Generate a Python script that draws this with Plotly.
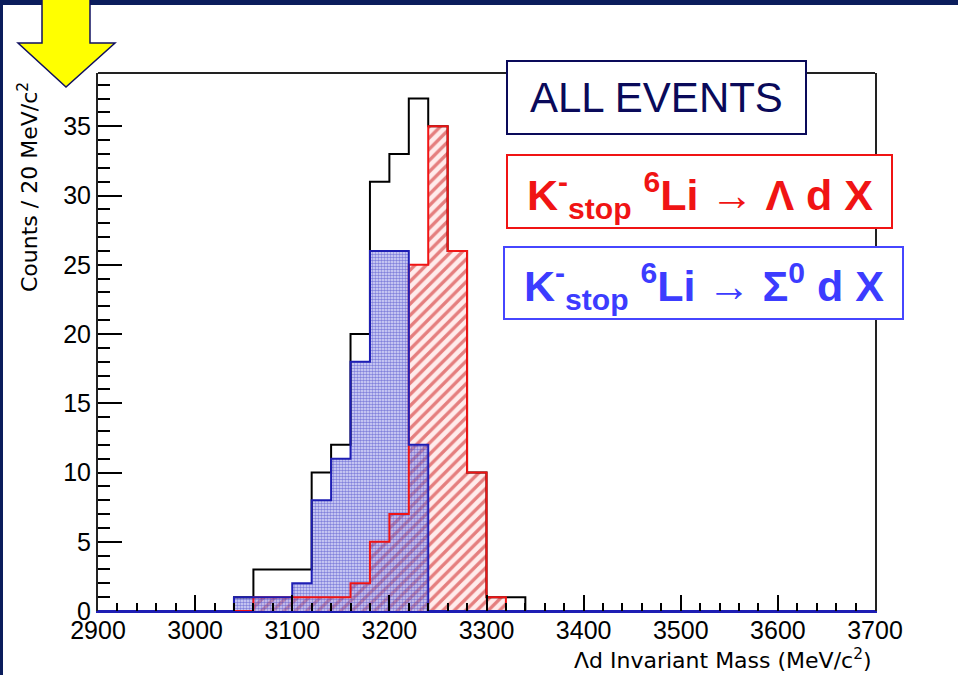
import plotly.graph_objects as go

# Histogram binning (MeV/c^2)
x_min, x_max, bin_width = 2900, 3700, 20
first_bin = 3040  # lower edge of the first listed bin

# Counts per 20 MeV/c^2 bin, for bins starting at 3040, 3060, ..., 3320
counts_all = [1, 3, 3, 3, 10, 12, 20, 31, 33, 37, 35, 26, 10, 1, 1]
counts_lambda = [0, 1, 1, 1, 1, 1, 2, 5, 7, 25, 35, 26, 10, 1, 0]
counts_sigma = [1, 1, 1, 2, 8, 11, 18, 26, 26, 12, 0, 0, 0, 0, 0]

x_tick_vals = [2900, 3000, 3100, 3200, 3300, 3400, 3500, 3600, 3700]
y_tick_vals = [0, 5, 10, 15, 20, 25, 30, 35]
y_max = 37 * 1.05

n_bins = (x_max - x_min) // bin_width
edges = [x_min + i * bin_width for i in range(n_bins + 1)]
centers = [e + bin_width / 2 for e in edges[:-1]]


def full_hist(counts):
    lead = (first_bin - x_min) // bin_width
    return [0] * lead + counts + [0] * (n_bins - lead - len(counts))


h_all = full_hist(counts_all)
h_lam = full_hist(counts_lambda)
h_sig = full_hist(counts_sigma)

RED = "#f01414"
BLUE_LINE = "#1e1eb4"
BLUE_TXT = "#3c3cff"
NAVY = "#0b1d5c"

fig = go.Figure()

# all events: outline only
fig.add_trace(go.Scatter(x=edges, y=h_all + [h_all[-1]], mode="lines",
                         line=dict(color="black", width=2, shape="hv"),
                         hoverinfo="skip", showlegend=False))

# Lambda d X: red hatched
fig.add_trace(go.Bar(x=centers, y=h_lam, width=bin_width,
                     marker=dict(color="rgba(0,0,0,0)", line=dict(width=0),
                                 pattern=dict(shape="/", fgcolor="#cc1010",
                                              bgcolor="rgba(255,200,200,0.35)",
                                              size=8, solidity=0.42)),
                     hoverinfo="skip", showlegend=False))
fig.add_trace(go.Scatter(x=edges, y=h_lam + [h_lam[-1]], mode="lines",
                         line=dict(color=RED, width=2, shape="hv"),
                         hoverinfo="skip", showlegend=False))

# Sigma0 d X: blue dotted
fig.add_trace(go.Bar(x=centers, y=h_sig, width=bin_width,
                     marker=dict(color="rgba(0,0,0,0)", line=dict(width=0),
                                 pattern=dict(shape=".", fgcolor="#2828c0",
                                              bgcolor="rgba(170,170,240,0.40)",
                                              size=3, solidity=0.55)),
                     hoverinfo="skip", showlegend=False))
fig.add_trace(go.Scatter(x=edges, y=h_sig + [h_sig[-1]], mode="lines",
                         line=dict(color=BLUE_LINE, width=2, shape="hv"),
                         hoverinfo="skip", showlegend=False))

# pixel -> paper helpers for decorations around the frame
L, R, T, B = 98, 875, 73, 611


def px(x):
    return (x - L) / (R - L)


def py(y):
    return (B - y) / (B - T)


shapes = []
# dark slide frame on the top and left edges
shapes.append(dict(type="rect", xref="paper", yref="paper", x0=px(0), x1=px(958),
                   y0=py(5), y1=py(0), fillcolor=NAVY, line=dict(width=0), layer="above"))
shapes.append(dict(type="rect", xref="paper", yref="paper", x0=px(0), x1=px(3),
                   y0=py(675), y1=py(0), fillcolor=NAVY, line=dict(width=0), layer="above"))
# top frame line
shapes.append(dict(type="line", xref="paper", yref="paper", x0=0, x1=1, y0=1, y1=1,
                   line=dict(color="#222222", width=2), layer="above"))
# yellow arrow
pts = [(42, -2), (90, -2), (90, 43), (115, 43), (66, 87), (18, 43), (42, 43)]
path = "M " + " L ".join(f"{px(a):.5f},{py(b):.5f}" for a, b in pts) + " Z"
shapes.append(dict(type="path", xref="paper", yref="paper", path=path,
                   fillcolor="#ffff00", line=dict(color="#101060", width=1.5), layer="above"))

# label boxes
boxes = [
    ((507, 61, 806, 134), "#0a0a5a"),
    ((507, 155, 892, 228), RED),
    ((504, 247, 903, 319), "#4646ff"),
]
for (x0, y0, x1, y1), col in boxes:
    shapes.append(dict(type="rect", xref="paper", yref="paper",
                       x0=px(x0), x1=px(x1), y0=py(y1), y1=py(y0),
                       fillcolor="white", line=dict(color=col, width=2), layer="above"))

annotations = [
    dict(text="ALL EVENTS", x=px(656), y=py(98), xref="paper", yref="paper",
         showarrow=False, xanchor="center", yanchor="middle",
         font=dict(family="Liberation Sans", size=42, color="#0a0a5a")),
    dict(text="<b>K<sup>-</sup><sub>stop</sub> <sup>6</sup>Li \u2192 \u039b d X</b>",
         x=px(700), y=py(195), xref="paper", yref="paper",
         showarrow=False, xanchor="center", yanchor="middle",
         font=dict(family="Liberation Sans", size=43, color=RED)),
    dict(text="<b>K<sup>-</sup><sub>stop</sub> <sup>6</sup>Li \u2192 \u03a3<sup>0</sup> d X</b>",
         x=px(704), y=py(286), xref="paper", yref="paper",
         showarrow=False, xanchor="center", yanchor="middle",
         font=dict(family="Liberation Sans", size=43, color=BLUE_TXT)),
    # axis titles
    dict(text="Counts / 20 MeV/c<sup>2</sup>", x=px(28), y=py(187),
         xref="paper", yref="paper", showarrow=False, textangle=-90,
         xanchor="center", yanchor="middle",
         font=dict(family="DejaVu Sans", size=22, color="black")),
    dict(text="\u039bd Invariant Mass (MeV/c<sup>2</sup>)", x=px(874), y=py(659),
         xref="paper", yref="paper", showarrow=False,
         xanchor="right", yanchor="middle",
         font=dict(family="DejaVu Sans", size=22, color="black")),
]

fig.update_layout(
    width=958, height=675, autosize=False,
    margin=dict(l=L, r=958 - R, t=T, b=675 - B, pad=0),
    paper_bgcolor="white", plot_bgcolor="white",
    barmode="overlay", bargap=0,
    shapes=shapes, annotations=annotations,
    xaxis=dict(range=[x_min, x_max], tickvals=x_tick_vals,
               ticks="inside", ticklen=16, tickwidth=1.5, tickcolor="black",
               ticklabelstandoff=-4,
               minor=dict(dtick=bin_width, tick0=x_min, ticks="inside", ticklen=8,
                          tickwidth=1.5, tickcolor="black", showgrid=False),
               showgrid=False, zeroline=False,
               showline=True, linecolor=BLUE_LINE, linewidth=2, mirror=False,
               tickfont=dict(family="Liberation Sans", size=25, color="black")),
    yaxis=dict(range=[0, y_max], tickvals=y_tick_vals,
               ticks="inside", ticklen=24, tickwidth=1.5, tickcolor="black",
               minor=dict(dtick=1, tick0=0, ticks="inside", ticklen=12,
                          tickwidth=1.5, tickcolor="black", showgrid=False),
               showgrid=False, zeroline=False,
               showline=True, linecolor="#222222", linewidth=2, mirror=True,
               tickfont=dict(family="Liberation Sans", size=25, color="black")),
)

fig.write_html("out.html")
